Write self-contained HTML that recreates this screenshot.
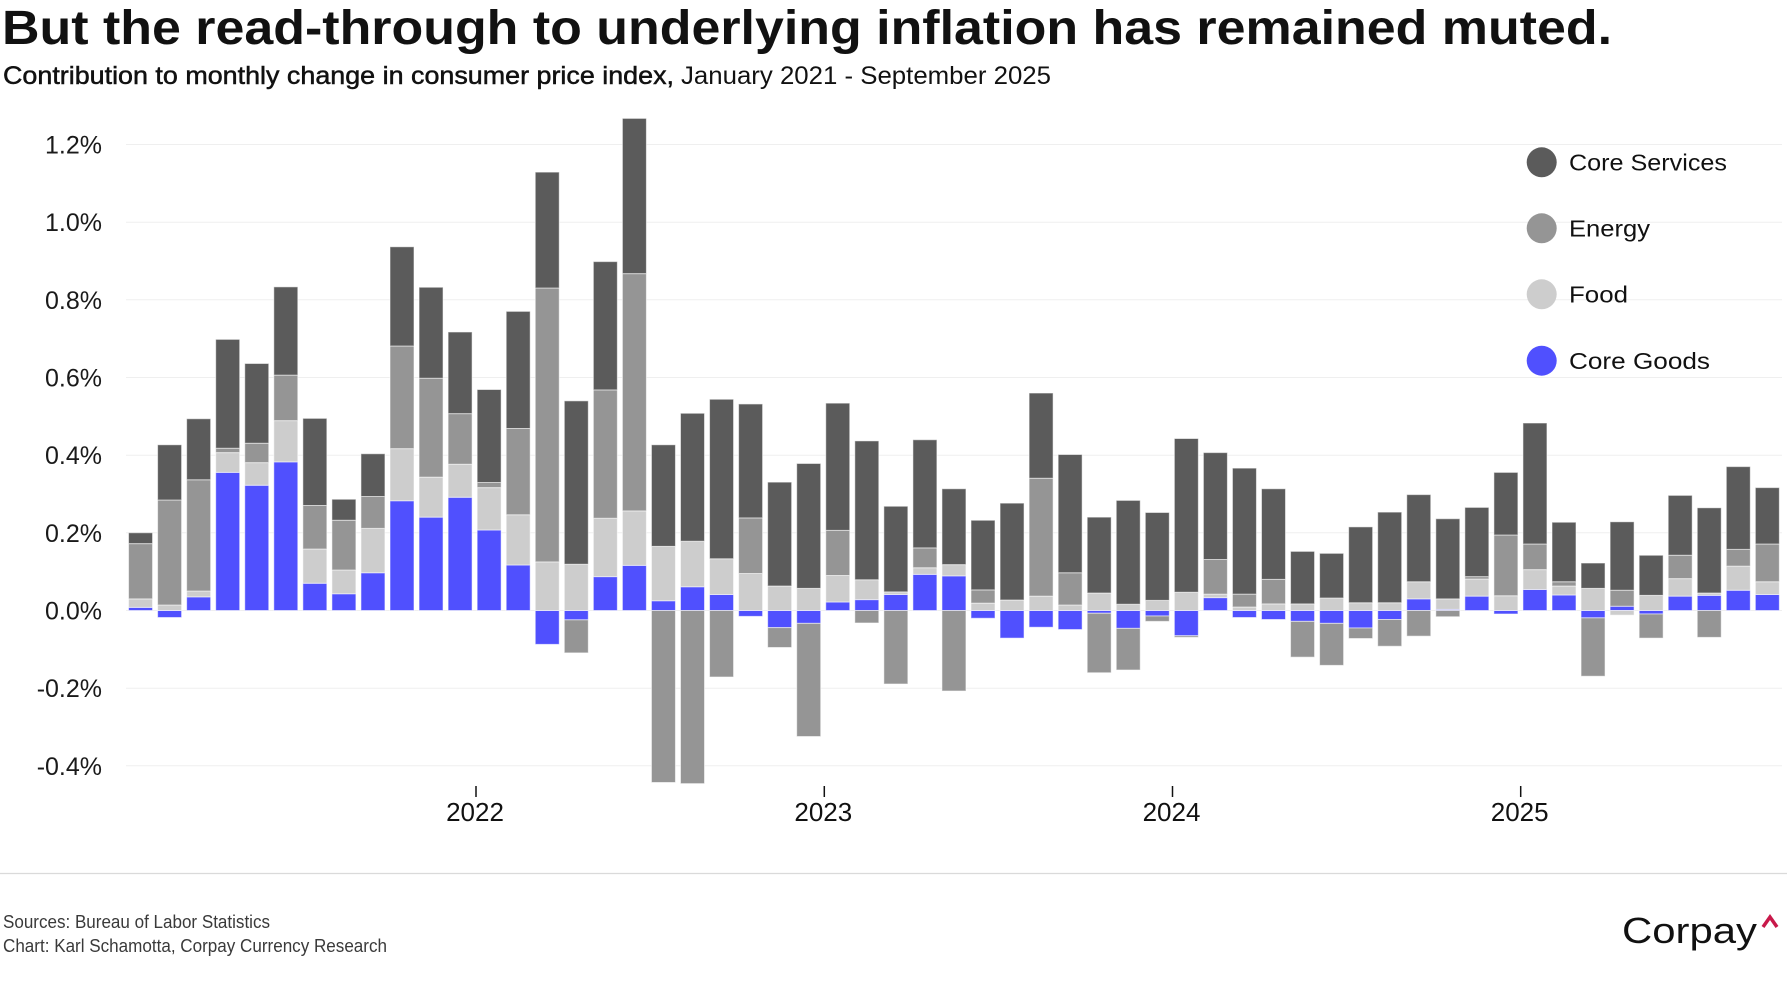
<!DOCTYPE html>
<html>
<head>
<meta charset="utf-8">
<style>
html,body{margin:0;padding:0;background:#fff;}
body{width:1792px;height:1000px;overflow:hidden;}
svg{display:block;}
.g{fill:#5050fe}
.f{fill:#cdcdcd}
.e{fill:#959595}
.s{fill:#5b5b5b}
.bars rect{stroke:#ffffff;stroke-opacity:0.55;stroke-width:1;vector-effect:non-scaling-stroke;}
.yl{font-family:"Liberation Sans",sans-serif;font-size:25px;fill:#1a1a1a;text-anchor:end;}
.xl{font-family:"Liberation Sans",sans-serif;font-size:26px;fill:#111;text-anchor:middle;}
.lg{font-family:"Liberation Sans",sans-serif;font-size:23.5px;fill:#111;}
.ft{font-family:"Liberation Sans",sans-serif;font-size:18px;fill:#3a3a3a;}
</style>
</head>
<body>
<svg width="1792" height="1000" viewBox="0 0 1792 1000" xmlns="http://www.w3.org/2000/svg">
<rect x="0" y="0" width="1792" height="1000" fill="#fff"/>
<!-- Title -->
<text x="2" y="44" font-family="Liberation Sans, sans-serif" font-weight="bold" font-size="48" fill="#111" textLength="1610" lengthAdjust="spacingAndGlyphs">But the read-through to underlying inflation has remained muted.</text>
<text x="3" y="84" font-family="Liberation Sans, sans-serif" font-size="25" fill="#111"><tspan stroke="#111" stroke-width="0.5" textLength="671" lengthAdjust="spacingAndGlyphs">Contribution to monthly change in consumer price index,</tspan><tspan x="681" textLength="370" lengthAdjust="spacingAndGlyphs">January 2021 - September 2025</tspan></text>

<!-- Gridlines -->
<g stroke="#efefef" stroke-width="1">
<line x1="126" x2="1782" y1="144.5" y2="144.5"/>
<line x1="126" x2="1782" y1="222.2" y2="222.2"/>
<line x1="126" x2="1782" y1="299.8" y2="299.8"/>
<line x1="126" x2="1782" y1="377.5" y2="377.5"/>
<line x1="126" x2="1782" y1="455.2" y2="455.2"/>
<line x1="126" x2="1782" y1="532.8" y2="532.8"/>
<line x1="126" x2="1782" y1="610.5" y2="610.5"/>
<line x1="126" x2="1782" y1="688.2" y2="688.2"/>
<line x1="126" x2="1782" y1="765.8" y2="765.8"/>
</g>

<!-- Y labels -->
<text class="yl" x="102" y="153.5">1.2%</text>
<text class="yl" x="102" y="231.2">1.0%</text>
<text class="yl" x="102" y="308.8">0.8%</text>
<text class="yl" x="102" y="386.5">0.6%</text>
<text class="yl" x="102" y="464.2">0.4%</text>
<text class="yl" x="102" y="541.8">0.2%</text>
<text class="yl" x="102" y="619.5">0.0%</text>
<text class="yl" x="102" y="697.2">-0.2%</text>
<text class="yl" x="102" y="774.8">-0.4%</text>

<!-- Bars -->
<g class="bars" transform="translate(128.55,610.5) scale(29.05,-389)">
<!-- i0 -->
<rect class="g" x="0" width="0.826" y="0" height="0.008"/>
<rect class="f" x="0" width="0.826" y="0.008" height="0.022"/>
<rect class="e" x="0" width="0.826" y="0.03" height="0.142"/>
<rect class="s" x="0" width="0.826" y="0.172" height="0.028"/>
<!-- i1 -->
<rect class="g" x="1" width="0.826" y="-0.018" height="0.018"/>
<rect class="f" x="1" width="0.826" y="0" height="0.014"/>
<rect class="e" x="1" width="0.826" y="0.014" height="0.27"/>
<rect class="s" x="1" width="0.826" y="0.284" height="0.142"/>
<!-- i2 -->
<rect class="g" x="2" width="0.826" y="0" height="0.035"/>
<rect class="f" x="2" width="0.826" y="0.035" height="0.015"/>
<rect class="e" x="2" width="0.826" y="0.05" height="0.286"/>
<rect class="s" x="2" width="0.826" y="0.336" height="0.157"/>
<!-- i3 -->
<rect class="g" x="3" width="0.826" y="0" height="0.355"/>
<rect class="f" x="3" width="0.826" y="0.355" height="0.051"/>
<rect class="e" x="3" width="0.826" y="0.406" height="0.011"/>
<rect class="s" x="3" width="0.826" y="0.417" height="0.28"/>
<!-- i4 -->
<rect class="g" x="4" width="0.826" y="0" height="0.322"/>
<rect class="f" x="4" width="0.826" y="0.322" height="0.058"/>
<rect class="e" x="4" width="0.826" y="0.38" height="0.05"/>
<rect class="s" x="4" width="0.826" y="0.43" height="0.205"/>
<!-- i5 -->
<rect class="g" x="5" width="0.826" y="0" height="0.382"/>
<rect class="f" x="5" width="0.826" y="0.382" height="0.106"/>
<rect class="e" x="5" width="0.826" y="0.488" height="0.117"/>
<rect class="s" x="5" width="0.826" y="0.605" height="0.227"/>
<!-- i6 -->
<rect class="g" x="6" width="0.826" y="0" height="0.07"/>
<rect class="f" x="6" width="0.826" y="0.07" height="0.088"/>
<rect class="e" x="6" width="0.826" y="0.158" height="0.112"/>
<rect class="s" x="6" width="0.826" y="0.27" height="0.224"/>
<!-- i7 -->
<rect class="g" x="7" width="0.826" y="0" height="0.043"/>
<rect class="f" x="7" width="0.826" y="0.043" height="0.061"/>
<rect class="e" x="7" width="0.826" y="0.104" height="0.128"/>
<rect class="s" x="7" width="0.826" y="0.232" height="0.054"/>
<!-- i8 -->
<rect class="g" x="8" width="0.826" y="0" height="0.097"/>
<rect class="f" x="8" width="0.826" y="0.097" height="0.114"/>
<rect class="e" x="8" width="0.826" y="0.211" height="0.082"/>
<rect class="s" x="8" width="0.826" y="0.293" height="0.11"/>
<!-- i9 -->
<rect class="g" x="9" width="0.826" y="0" height="0.282"/>
<rect class="f" x="9" width="0.826" y="0.282" height="0.134"/>
<rect class="e" x="9" width="0.826" y="0.416" height="0.264"/>
<rect class="s" x="9" width="0.826" y="0.68" height="0.255"/>
<!-- i10 -->
<rect class="g" x="10" width="0.826" y="0" height="0.24"/>
<rect class="f" x="10" width="0.826" y="0.24" height="0.103"/>
<rect class="e" x="10" width="0.826" y="0.343" height="0.254"/>
<rect class="s" x="10" width="0.826" y="0.597" height="0.234"/>
<!-- i11 -->
<rect class="g" x="11" width="0.826" y="0" height="0.291"/>
<rect class="f" x="11" width="0.826" y="0.291" height="0.085"/>
<rect class="e" x="11" width="0.826" y="0.376" height="0.13"/>
<rect class="s" x="11" width="0.826" y="0.506" height="0.21"/>
<!-- i12 -->
<rect class="g" x="12" width="0.826" y="0" height="0.207"/>
<rect class="f" x="12" width="0.826" y="0.207" height="0.109"/>
<rect class="e" x="12" width="0.826" y="0.316" height="0.013"/>
<rect class="s" x="12" width="0.826" y="0.329" height="0.239"/>
<!-- i13 -->
<rect class="g" x="13" width="0.826" y="0" height="0.117"/>
<rect class="f" x="13" width="0.826" y="0.117" height="0.129"/>
<rect class="e" x="13" width="0.826" y="0.246" height="0.222"/>
<rect class="s" x="13" width="0.826" y="0.468" height="0.301"/>
<!-- i14 -->
<rect class="g" x="14" width="0.826" y="-0.087" height="0.087"/>
<rect class="f" x="14" width="0.826" y="0" height="0.125"/>
<rect class="e" x="14" width="0.826" y="0.125" height="0.704"/>
<rect class="s" x="14" width="0.826" y="0.829" height="0.298"/>
<!-- i15 -->
<rect class="g" x="15" width="0.826" y="-0.024" height="0.024"/>
<rect class="e" x="15" width="0.826" y="-0.109" height="0.085"/>
<rect class="f" x="15" width="0.826" y="0" height="0.119"/>
<rect class="s" x="15" width="0.826" y="0.119" height="0.42"/>
<!-- i16 -->
<rect class="g" x="16" width="0.826" y="0" height="0.087"/>
<rect class="f" x="16" width="0.826" y="0.087" height="0.15"/>
<rect class="e" x="16" width="0.826" y="0.237" height="0.33"/>
<rect class="s" x="16" width="0.826" y="0.567" height="0.33"/>
<!-- i17 -->
<rect class="g" x="17" width="0.826" y="0" height="0.116"/>
<rect class="f" x="17" width="0.826" y="0.116" height="0.14"/>
<rect class="e" x="17" width="0.826" y="0.256" height="0.61"/>
<rect class="s" x="17" width="0.826" y="0.866" height="0.399"/>
<!-- i18 -->
<rect class="g" x="18" width="0.826" y="0" height="0.025"/>
<rect class="f" x="18" width="0.826" y="0.025" height="0.14"/>
<rect class="s" x="18" width="0.826" y="0.165" height="0.261"/>
<rect class="e" x="18" width="0.826" y="-0.442" height="0.442"/>
<!-- i19 -->
<rect class="g" x="19" width="0.826" y="0" height="0.061"/>
<rect class="f" x="19" width="0.826" y="0.061" height="0.117"/>
<rect class="s" x="19" width="0.826" y="0.178" height="0.329"/>
<rect class="e" x="19" width="0.826" y="-0.445" height="0.445"/>
<!-- i20 -->
<rect class="g" x="20" width="0.826" y="0" height="0.041"/>
<rect class="f" x="20" width="0.826" y="0.041" height="0.092"/>
<rect class="s" x="20" width="0.826" y="0.133" height="0.41"/>
<rect class="e" x="20" width="0.826" y="-0.171" height="0.171"/>
<!-- i21 -->
<rect class="g" x="21" width="0.826" y="-0.015" height="0.015"/>
<rect class="f" x="21" width="0.826" y="0" height="0.095"/>
<rect class="e" x="21" width="0.826" y="0.095" height="0.143"/>
<rect class="s" x="21" width="0.826" y="0.238" height="0.293"/>
<!-- i22 -->
<rect class="g" x="22" width="0.826" y="-0.044" height="0.044"/>
<rect class="e" x="22" width="0.826" y="-0.095" height="0.051"/>
<rect class="f" x="22" width="0.826" y="0" height="0.063"/>
<rect class="s" x="22" width="0.826" y="0.063" height="0.267"/>
<!-- i23 -->
<rect class="g" x="23" width="0.826" y="-0.033" height="0.033"/>
<rect class="e" x="23" width="0.826" y="-0.324" height="0.291"/>
<rect class="f" x="23" width="0.826" y="0" height="0.057"/>
<rect class="s" x="23" width="0.826" y="0.057" height="0.321"/>
<!-- i24 -->
<rect class="g" x="24" width="0.826" y="0" height="0.022"/>
<rect class="f" x="24" width="0.826" y="0.022" height="0.068"/>
<rect class="e" x="24" width="0.826" y="0.09" height="0.116"/>
<rect class="s" x="24" width="0.826" y="0.206" height="0.327"/>
<!-- i25 -->
<rect class="g" x="25" width="0.826" y="0" height="0.028"/>
<rect class="f" x="25" width="0.826" y="0.028" height="0.051"/>
<rect class="s" x="25" width="0.826" y="0.079" height="0.357"/>
<rect class="e" x="25" width="0.826" y="-0.032" height="0.032"/>
<!-- i26 -->
<rect class="g" x="26" width="0.826" y="0" height="0.041"/>
<rect class="f" x="26" width="0.826" y="0.041" height="0.007"/>
<rect class="s" x="26" width="0.826" y="0.048" height="0.22"/>
<rect class="e" x="26" width="0.826" y="-0.189" height="0.189"/>
<!-- i27 -->
<rect class="g" x="27" width="0.826" y="0" height="0.093"/>
<rect class="f" x="27" width="0.826" y="0.093" height="0.017"/>
<rect class="e" x="27" width="0.826" y="0.11" height="0.051"/>
<rect class="s" x="27" width="0.826" y="0.161" height="0.278"/>
<!-- i28 -->
<rect class="g" x="28" width="0.826" y="0" height="0.089"/>
<rect class="f" x="28" width="0.826" y="0.089" height="0.029"/>
<rect class="s" x="28" width="0.826" y="0.118" height="0.195"/>
<rect class="e" x="28" width="0.826" y="-0.207" height="0.207"/>
<!-- i29 -->
<rect class="g" x="29" width="0.826" y="-0.02" height="0.02"/>
<rect class="f" x="29" width="0.826" y="0" height="0.019"/>
<rect class="e" x="29" width="0.826" y="0.019" height="0.034"/>
<rect class="s" x="29" width="0.826" y="0.053" height="0.179"/>
<!-- i30 -->
<rect class="g" x="30" width="0.826" y="-0.071" height="0.071"/>
<rect class="f" x="30" width="0.826" y="0" height="0.027"/>
<rect class="s" x="30" width="0.826" y="0.027" height="0.249"/>
<!-- i31 -->
<rect class="g" x="31" width="0.826" y="-0.043" height="0.043"/>
<rect class="f" x="31" width="0.826" y="0" height="0.037"/>
<rect class="e" x="31" width="0.826" y="0.037" height="0.303"/>
<rect class="s" x="31" width="0.826" y="0.34" height="0.219"/>
<!-- i32 -->
<rect class="g" x="32" width="0.826" y="-0.049" height="0.049"/>
<rect class="f" x="32" width="0.826" y="0" height="0.014"/>
<rect class="e" x="32" width="0.826" y="0.014" height="0.083"/>
<rect class="s" x="32" width="0.826" y="0.097" height="0.304"/>
<!-- i33 -->
<rect class="g" x="33" width="0.826" y="-0.007" height="0.007"/>
<rect class="e" x="33" width="0.826" y="-0.16" height="0.153"/>
<rect class="f" x="33" width="0.826" y="0" height="0.045"/>
<rect class="s" x="33" width="0.826" y="0.045" height="0.195"/>
<!-- i34 -->
<rect class="g" x="34" width="0.826" y="-0.046" height="0.046"/>
<rect class="e" x="34" width="0.826" y="-0.153" height="0.107"/>
<rect class="f" x="34" width="0.826" y="0" height="0.016"/>
<rect class="s" x="34" width="0.826" y="0.016" height="0.267"/>
<!-- i35 -->
<rect class="g" x="35" width="0.826" y="-0.014" height="0.014"/>
<rect class="e" x="35" width="0.826" y="-0.028" height="0.014"/>
<rect class="f" x="35" width="0.826" y="0" height="0.026"/>
<rect class="s" x="35" width="0.826" y="0.026" height="0.226"/>
<!-- i36 -->
<rect class="g" x="36" width="0.826" y="-0.065" height="0.065"/>
<rect class="e" x="36" width="0.826" y="-0.069" height="0.004"/>
<rect class="f" x="36" width="0.826" y="0" height="0.047"/>
<rect class="s" x="36" width="0.826" y="0.047" height="0.395"/>
<!-- i37 -->
<rect class="g" x="37" width="0.826" y="0" height="0.033"/>
<rect class="f" x="37" width="0.826" y="0.033" height="0.009"/>
<rect class="e" x="37" width="0.826" y="0.042" height="0.089"/>
<rect class="s" x="37" width="0.826" y="0.131" height="0.275"/>
<!-- i38 -->
<rect class="g" x="38" width="0.826" y="-0.018" height="0.018"/>
<rect class="f" x="38" width="0.826" y="0" height="0.009"/>
<rect class="e" x="38" width="0.826" y="0.009" height="0.033"/>
<rect class="s" x="38" width="0.826" y="0.042" height="0.324"/>
<!-- i39 -->
<rect class="g" x="39" width="0.826" y="-0.023" height="0.023"/>
<rect class="f" x="39" width="0.826" y="0" height="0.017"/>
<rect class="e" x="39" width="0.826" y="0.017" height="0.063"/>
<rect class="s" x="39" width="0.826" y="0.08" height="0.233"/>
<!-- i40 -->
<rect class="g" x="40" width="0.826" y="-0.028" height="0.028"/>
<rect class="e" x="40" width="0.826" y="-0.12" height="0.092"/>
<rect class="f" x="40" width="0.826" y="0" height="0.017"/>
<rect class="s" x="40" width="0.826" y="0.017" height="0.135"/>
<!-- i41 -->
<rect class="g" x="41" width="0.826" y="-0.033" height="0.033"/>
<rect class="e" x="41" width="0.826" y="-0.141" height="0.108"/>
<rect class="f" x="41" width="0.826" y="0" height="0.032"/>
<rect class="s" x="41" width="0.826" y="0.032" height="0.115"/>
<!-- i42 -->
<rect class="g" x="42" width="0.826" y="-0.045" height="0.045"/>
<rect class="e" x="42" width="0.826" y="-0.072" height="0.027"/>
<rect class="f" x="42" width="0.826" y="0" height="0.02"/>
<rect class="s" x="42" width="0.826" y="0.02" height="0.195"/>
<!-- i43 -->
<rect class="g" x="43" width="0.826" y="-0.023" height="0.023"/>
<rect class="e" x="43" width="0.826" y="-0.092" height="0.069"/>
<rect class="f" x="43" width="0.826" y="0" height="0.02"/>
<rect class="s" x="43" width="0.826" y="0.02" height="0.233"/>
<!-- i44 -->
<rect class="g" x="44" width="0.826" y="0" height="0.03"/>
<rect class="f" x="44" width="0.826" y="0.03" height="0.044"/>
<rect class="s" x="44" width="0.826" y="0.074" height="0.224"/>
<rect class="e" x="44" width="0.826" y="-0.066" height="0.066"/>
<!-- i45 -->
<rect class="g" x="45" width="0.826" y="0" height="0.003"/>
<rect class="f" x="45" width="0.826" y="0.003" height="0.027"/>
<rect class="s" x="45" width="0.826" y="0.03" height="0.206"/>
<rect class="e" x="45" width="0.826" y="-0.016" height="0.016"/>
<!-- i46 -->
<rect class="g" x="46" width="0.826" y="0" height="0.037"/>
<rect class="f" x="46" width="0.826" y="0.037" height="0.044"/>
<rect class="e" x="46" width="0.826" y="0.081" height="0.006"/>
<rect class="s" x="46" width="0.826" y="0.087" height="0.178"/>
<!-- i47 -->
<rect class="g" x="47" width="0.826" y="-0.009" height="0.009"/>
<rect class="f" x="47" width="0.826" y="0" height="0.038"/>
<rect class="e" x="47" width="0.826" y="0.038" height="0.156"/>
<rect class="s" x="47" width="0.826" y="0.194" height="0.161"/>
<!-- i48 -->
<rect class="g" x="48" width="0.826" y="0" height="0.054"/>
<rect class="f" x="48" width="0.826" y="0.054" height="0.051"/>
<rect class="e" x="48" width="0.826" y="0.105" height="0.066"/>
<rect class="s" x="48" width="0.826" y="0.171" height="0.311"/>
<!-- i49 -->
<rect class="g" x="49" width="0.826" y="0" height="0.04"/>
<rect class="f" x="49" width="0.826" y="0.04" height="0.023"/>
<rect class="e" x="49" width="0.826" y="0.063" height="0.011"/>
<rect class="s" x="49" width="0.826" y="0.074" height="0.153"/>
<!-- i50 -->
<rect class="g" x="50" width="0.826" y="-0.019" height="0.019"/>
<rect class="e" x="50" width="0.826" y="-0.169" height="0.15"/>
<rect class="f" x="50" width="0.826" y="0" height="0.057"/>
<rect class="s" x="50" width="0.826" y="0.057" height="0.065"/>
<!-- i51 -->
<rect class="g" x="51" width="0.826" y="0" height="0.011"/>
<rect class="f" x="51" width="0.826" y="-0.012" height="0.012"/>
<rect class="e" x="51" width="0.826" y="0.011" height="0.041"/>
<rect class="s" x="51" width="0.826" y="0.052" height="0.176"/>
<!-- i52 -->
<rect class="g" x="52" width="0.826" y="-0.009" height="0.009"/>
<rect class="e" x="52" width="0.826" y="-0.071" height="0.062"/>
<rect class="f" x="52" width="0.826" y="0" height="0.039"/>
<rect class="s" x="52" width="0.826" y="0.039" height="0.103"/>
<!-- i53 -->
<rect class="g" x="53" width="0.826" y="0" height="0.037"/>
<rect class="f" x="53" width="0.826" y="0.037" height="0.045"/>
<rect class="e" x="53" width="0.826" y="0.082" height="0.06"/>
<rect class="s" x="53" width="0.826" y="0.142" height="0.154"/>
<!-- i54 -->
<rect class="g" x="54" width="0.826" y="0" height="0.039"/>
<rect class="f" x="54" width="0.826" y="0.039" height="0.006"/>
<rect class="s" x="54" width="0.826" y="0.045" height="0.219"/>
<rect class="e" x="54" width="0.826" y="-0.069" height="0.069"/>
<!-- i55 -->
<rect class="g" x="55" width="0.826" y="0" height="0.052"/>
<rect class="f" x="55" width="0.826" y="0.052" height="0.062"/>
<rect class="e" x="55" width="0.826" y="0.114" height="0.043"/>
<rect class="s" x="55" width="0.826" y="0.157" height="0.213"/>
<!-- i56 -->
<rect class="g" x="56" width="0.826" y="0" height="0.041"/>
<rect class="f" x="56" width="0.826" y="0.041" height="0.033"/>
<rect class="e" x="56" width="0.826" y="0.074" height="0.097"/>
<rect class="s" x="56" width="0.826" y="0.171" height="0.145"/>
</g>

<!-- X ticks -->
<g stroke="#111" stroke-width="1.5">
<line x1="476" x2="476" y1="786" y2="797"/>
<line x1="824.3" x2="824.3" y1="786" y2="797"/>
<line x1="1172.5" x2="1172.5" y1="786" y2="797"/>
<line x1="1520.7" x2="1520.7" y1="786" y2="797"/>
</g>
<text class="xl" x="475" y="821">2022</text>
<text class="xl" x="823.3" y="821">2023</text>
<text class="xl" x="1171.5" y="821">2024</text>
<text class="xl" x="1519.7" y="821">2025</text>

<!-- Legend -->
<circle cx="1541.7" cy="162.3" r="15" fill="#5b5b5b"/>
<circle cx="1541.7" cy="228.3" r="15" fill="#959595"/>
<circle cx="1541.7" cy="294.3" r="15" fill="#cdcdcd"/>
<circle cx="1541.7" cy="360.7" r="15" fill="#5050fe"/>
<text class="lg" x="1569" y="170.7" textLength="158" lengthAdjust="spacingAndGlyphs">Core Services</text>
<text class="lg" x="1569" y="236.7" textLength="81" lengthAdjust="spacingAndGlyphs">Energy</text>
<text class="lg" x="1569" y="302.7" textLength="59" lengthAdjust="spacingAndGlyphs">Food</text>
<text class="lg" x="1569" y="369" textLength="141" lengthAdjust="spacingAndGlyphs">Core Goods</text>

<!-- Footer -->
<line x1="0" x2="1787" y1="873.5" y2="873.5" stroke="#dadada" stroke-width="1.2"/>
<text class="ft" x="3" y="928" textLength="267" lengthAdjust="spacingAndGlyphs">Sources: Bureau of Labor Statistics</text>
<text class="ft" x="3" y="952" textLength="384" lengthAdjust="spacingAndGlyphs">Chart: Karl Schamotta, Corpay Currency Research</text>

<!-- Logo -->
<text x="1622" y="943" font-family="Liberation Sans, sans-serif" font-size="36" fill="#111" textLength="135" lengthAdjust="spacingAndGlyphs">Corpay</text>
<polyline points="1763,927 1770,917 1777,927" fill="none" stroke="#c8194a" stroke-width="3.5" stroke-linejoin="miter"/>
</svg>
</body>
</html>
